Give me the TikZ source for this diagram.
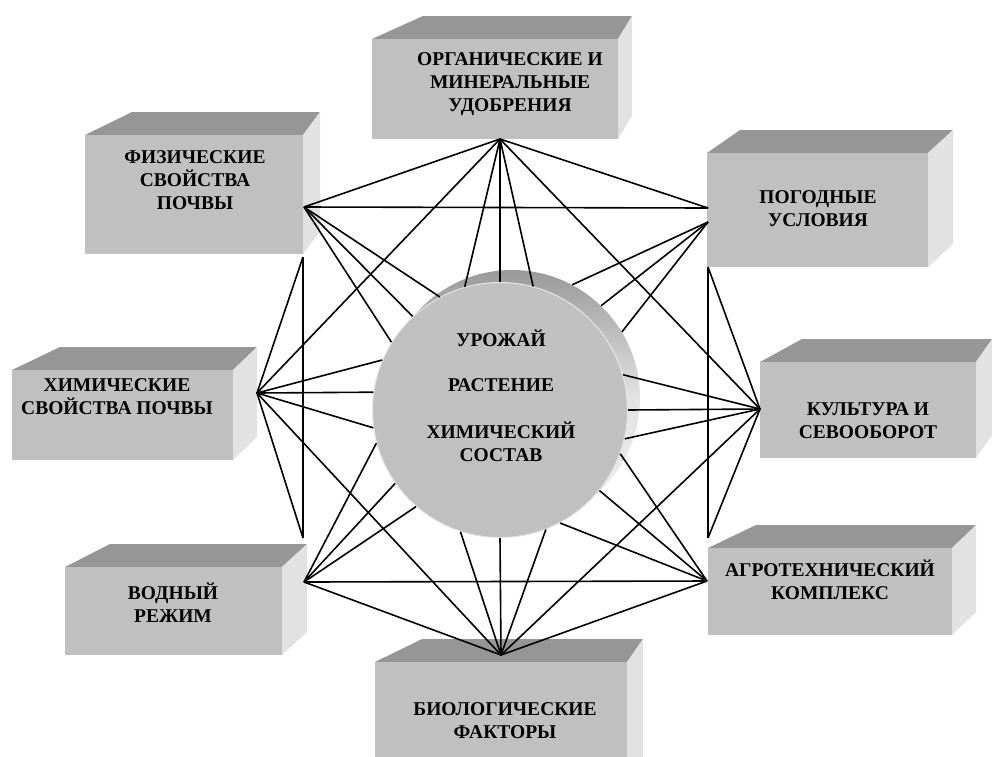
\documentclass[tikz,border=0pt]{standalone}
\usepackage{fontspec}
\setmainfont{Liberation Serif}
\usetikzlibrary{positioning}

\definecolor{front_gray}{RGB}{192,192,192}
\definecolor{top_gray}{RGB}{150,150,150}
\definecolor{side_gray}{RGB}{226,226,226}

% 3d box: x1, y1, x2, y2 of the front face, left slant, right slant
\newcommand{\factorbox}[6]{%
  \fill[top_gray] (#1,#2) -- ({#1+#5},{#2-23}) -- ({#3+#6},{#2-23}) -- (#3,#2) -- cycle;
  \fill[side_gray] (#3,#2) -- ({#3+#6},{#2-23}) -- ({#3+#6},{#4-23}) -- (#3,#4) -- cycle;
  \fill[front_gray] (#1,#2) rectangle (#3,#4);
}

\begin{document}
\begin{tikzpicture}[x=1pt, y=-1pt,
        factor_text/.style={align=center, font=\bfseries\fontsize{19.5}{23}\selectfont, inner sep=0pt},
        core_back/.style={circle, minimum size=256pt, inner sep=0pt, top color=black!40, bottom color=black!6, middle color=black!11},
        core_node/.style={circle, minimum size=255pt, inner sep=0pt, fill=front_gray, draw=black!10, line width=1pt},
        link/.style={black, line width=1.6pt},
        ]
            \useasboundingbox (0,0) rectangle (992,756);
            \clip (0,0) rectangle (992,756);

            % boxes
            \factorbox{372}{39}{618}{139}{51}{14}
            \factorbox{85}{135}{303}{254}{47}{17}
            \factorbox{707}{153}{928}{267}{33}{25}
            \factorbox{12}{370}{233}{460}{48}{24}
            \factorbox{760}{362}{976}{458}{42}{16}
            \factorbox{65}{567}{282}{655}{45}{25}
            \factorbox{708}{548}{952}{635}{48}{24}
            \factorbox{375}{662}{627}{790}{47}{16}

            \node[factor_text]  (org)   at (510,84)   {ОРГАНИЧЕСКИЕ И\\МИНЕРАЛЬНЫЕ\\УДОБРЕНИЯ};
            \node[factor_text]  (fiz)   at (195,180)  {ФИЗИЧЕСКИЕ\\СВОЙСТВА\\ПОЧВЫ};
            \node[factor_text]  (pog)   at (818,209)  {ПОГОДНЫЕ\\УСЛОВИЯ};
            \node[factor_text]  (him)   at (117,397)  {ХИМИЧЕСКИЕ\\СВОЙСТВА ПОЧВЫ};
            \node[factor_text]  (kult)  at (868,421)  {КУЛЬТУРА И\\СЕВООБОРОТ};
            \node[factor_text]  (vod)   at (173,603)  {ВОДНЫЙ\\РЕЖИМ};
            \node[factor_text]  (agro)  at (830,580)  {АГРОТЕХНИЧЕСКИЙ\\КОМПЛЕКС};
            \node[factor_text]  (bio)   at (505,721)  {БИОЛОГИЧЕСКИЕ\\ФАКТОРЫ};

            % contact points
            \coordinate (org_h)  at (500,139);
            \coordinate (fiz_a)  at (304,207);
            \coordinate (fiz_b)  at (303,257);
            \coordinate (pog_a)  at (708,208);
            \coordinate (pog_b)  at (708,222);
            \coordinate (pog_c)  at (708,267);
            \coordinate (him_h)  at (257,393);
            \coordinate (kult_h) at (760,409);
            \coordinate (vod_a)  at (303,538);
            \coordinate (vod_b)  at (304,582);
            \coordinate (agro_a) at (708,538);
            \coordinate (agro_b) at (707,581);
            \coordinate (bio_h)  at (501,655);

            % crop
            \node[core_back] (rim)  at (512,398) {};
            \node[core_node] (crop) at (500,410) {};
            \node[factor_text] (crop_text) at (501,396) {УРОЖАЙ\\[22pt]РАСТЕНИЕ\\[24pt]ХИМИЧЕСКИЙ\\СОСТАВ};

            % links between boxes
            \draw[link] (org_h) -- (fiz_a);
            \draw[link] (org_h) -- (pog_a);
            \draw[link] (org_h) -- (him_h);
            \draw[link] (org_h) -- (kult_h);
            \draw[link] (fiz_a) -- (pog_a);
            \draw[link] (fiz_b) -- (him_h);
            \draw[link] (fiz_b) -- (vod_a);
            \draw[link] (pog_c) -- (kult_h);
            \draw[link] (pog_c) -- (agro_a);
            \draw[link] (him_h) -- (vod_a);
            \draw[link] (him_h) -- (bio_h);
            \draw[link] (kult_h) -- (agro_a);
            \draw[link] (kult_h) -- (bio_h);
            \draw[link] (vod_b) -- (agro_b);
            \draw[link] (vod_b) -- (bio_h);
            \draw[link] (agro_b) -- (bio_h);

            % links to the crop
            \foreach \a in {106,90,75}     \draw[link] (org_h) -- (crop.\a);
            \foreach \a in {62,46,31}      \draw[link] (pog_b) -- (rim.\a);
            \foreach \a in {118,133,148}   \draw[link] (fiz_a) -- (crop.\a);
            \foreach \a in {157,172,188}   \draw[link] (him_h) -- (crop.\a);
            \foreach \a in {195,215,229}   \draw[link] (vod_b) -- (crop.\a);
            \foreach \a in {252,270,291}   \draw[link] (bio_h) -- (crop.\a);
            \foreach \a in {298,321,340}   \draw[link] (agro_b) -- (crop.\a);
            \foreach \a in {16,0,-13}      \draw[link] (kult_h) -- (crop.\a);

        \end{tikzpicture}
\end{document}
